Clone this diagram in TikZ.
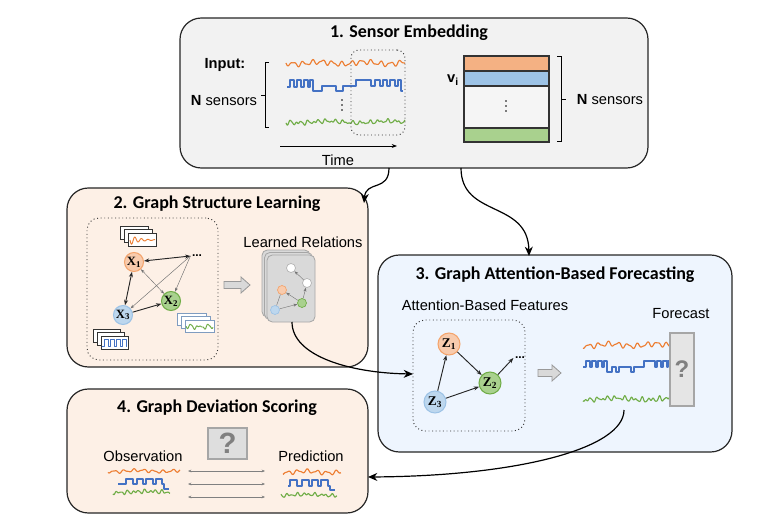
\documentclass[tikz,border=0pt]{standalone}
\usepackage{fontspec}
\setmainfont{Liberation Sans}
\newfontfamily\titlefont{Carlito}
\newfontfamily\varfont{Liberation Serif}
\usetikzlibrary{arrows.meta,fit}

\definecolor{boxgray}{HTML}{F2F2F2}
\definecolor{peach}{HTML}{FDF0E6}
\definecolor{skyfill}{HTML}{EEF5FE}
\definecolor{sigorange}{HTML}{ED7D31}
\definecolor{sigblue}{HTML}{4472C4}
\definecolor{siggreen}{HTML}{70AD47}
\definecolor{nodeorange}{HTML}{F8CBAD}
\definecolor{nodeorangeline}{HTML}{F4A46C}
\definecolor{nodeblue}{HTML}{BDD7EE}
\definecolor{nodeblueline}{HTML}{9DC3E6}
\definecolor{nodegreen}{HTML}{A9D18E}
\definecolor{nodegreenline}{HTML}{70AD47}
\definecolor{vecorange}{HTML}{F4B183}
\definecolor{vecblue}{HTML}{9DC3E6}
\definecolor{vecgreen}{HTML}{A9D18E}
\definecolor{cardgray}{HTML}{D9D9D9}
\definecolor{frameblue}{HTML}{7F9CC0}

\tikzset{
  stage/.style={draw=black!85, line width=0.9pt, rounded corners=16pt, inner sep=0pt},
  innerbox/.style={draw=black!80, dotted, line width=0.7pt, rounded corners=9pt, inner sep=0pt},
  stagetitle/.style={font=\titlefont\bfseries\fontsize{13.5}{15}\selectfont, inner sep=0pt},
  lbl/.style={font=\fontsize{11}{13}\selectfont, inner sep=0pt},
  xnode/.style={circle, minimum size=19*0.75pt, inner sep=0pt, line width=0.8pt,
    font=\varfont\bfseries\fontsize{9.5}{10}\selectfont},
  znode/.style={circle, minimum size=22*0.75pt, inner sep=0pt, line width=0.8pt,
    font=\varfont\bfseries\fontsize{10}{11}\selectfont},
  orangenode/.style={fill=nodeorange, draw=nodeorangeline},
  bluenode/.style={fill=nodeblue, draw=nodeblueline},
  greennode/.style={fill=nodegreen, draw=nodegreenline},
  mininode/.style={circle, minimum size=9*0.75pt, inner sep=0pt, line width=0.5pt},
  link/.style={-{Stealth[length=4pt,width=3pt]}, line width=0.7pt, black!85},
  dlink/.style={{Stealth[length=4pt,width=3pt]}-{Stealth[length=4pt,width=3pt]}, line width=0.7pt, black!85},
  faint/.style={-{Stealth[length=3pt,width=2.2pt]}, line width=0.35pt, black!55},
  dfaint/.style={{Stealth[length=3pt,width=2.2pt]}-{Stealth[length=3pt,width=2.2pt]}, line width=0.35pt, black!55},
  flow/.style={-{Stealth[length=7pt,width=6pt]}, line width=0.9pt},
  sig/.style={line width=0.85pt, line join=round},
}

% smooth wavy signal: colour, x start, x end, baseline, phase, amplitude
\newcommand\wavy[6]{%
  \draw[sig,#1] plot[domain=#2:#3, samples=200, smooth]
    (\x,{#4 + #6*(2.0*sin(37*(\x-#2)+#5) + 0.9*sin(63*(\x-#2)+2*#5) + 1.1*sin(8*(\x-#2)+#5))});}
% irregular signal with short bursts
\newcommand\spiky[6]{%
  \draw[sig,#1] plot[domain=#2:#3, samples=200, smooth]
    (\x,{#4 + #6*(2.6*sin(52*(\x-#2)+#5)*sin(11*(\x-#2)+2*#5) + 1.0*sin(83*(\x-#2))*sin(19*(\x-#2)+#5) + 0.9*sin(6*(\x-#2)+#5))});}
% grey block arrow: x start, x end, y
\newcommand\blockarrow[3]{%
  \draw[fill=black!15, draw=black!40, line width=0.6pt]
    (#1,#3-3.5) -- (#2-9,#3-3.5) -- (#2-9,#3-8) -- (#2,#3) -- (#2-9,#3+8)
    -- (#2-9,#3+3.5) -- (#1,#3+3.5) -- cycle;}
% three stacked frames, front frame top-left at (#1,#2), size #3 x #4, colour #5
\newcommand\frames[5]{%
  \foreach \k in {2,1,0}{
    \draw[#5, fill=white, line width=0.7pt] (#1-4*\k,#2-3.5*\k) rectangle ++(#3,#4);}}

\begin{document}
\begin{tikzpicture}[x=0.75pt,y=-0.75pt]
\useasboundingbox (0,0) rectangle (757,531);

% ---------------- stage boxes ----------------
\node[stage, fill=boxgray, fit={(180,18) (648,168)}] (b1) {};
\node[stage, fill=peach, fit={(67,188) (368,367)}] (b2) {};
\node[stage, fill=skyfill, fit={(378,255) (732,452)}] (b3) {};
\node[stage, fill=peach, fit={(67,389) (368,513)}] (b4) {};

\node[stagetitle] (t1) at (409,33) {1. Sensor Embedding};
\node[stagetitle] (t2) at (217,204) {2. Graph Structure Learning};
\node[stagetitle] (t3) at (555,275) {3. Graph Attention-Based Forecasting};
\node[stagetitle] (t4) at (217,408) {4. Graph Deviation Scoring};

% ---------------- 1. sensor embedding ----------------
\node[lbl, font=\bfseries\fontsize{11}{13}\selectfont] (inp) at (225,65) {Input:};
\node[lbl] (ns1) at (224,101) {\textbf{N} sensors};
\draw[line width=0.7pt] (269,62) -- (265,62) -- (265,127) -- (269,127);
\draw[line width=0.7pt] (265,95) -- (261,95);

\wavy{sigorange}{286}{405}{63}{0}{1}
\draw[sig, sigblue] plot[const plot] coordinates {
  (287,87) (290,80) (294,87) (297,80) (301,87) (304,80) (308,87) (310,80)
  (313,91) (322,86) (331,86) (336,91) (343,86) (352,86) (356,80) (364,80)
  (371,86) (375,80) (380,86) (383,80) (387,86) (390,80) (395,86) (398,80)
  (401,91) (403,91)};
\spiky{siggreen}{286}{405}{122}{20}{1}
\foreach \yy in {100,105,110} \fill (342,\yy) circle (0.9);
\node[innerbox, rounded corners=6pt, fit={(351,50) (405,135)}] (win) {};

\coordinate (ts) at (280,146);
\coordinate (te) at (397,146);
\draw[-{Stealth[length=4pt,width=3pt]}, line width=0.6pt] (ts) -- (te);
\node[lbl] (time) at (338,160) {Time};

\draw[fill=vecorange, draw=black!80, line width=0.9pt] (464,56) rectangle (549,71);
\draw[fill=vecblue, draw=black!80, line width=0.9pt] (464,71) rectangle (549,86);
\draw[fill=black!4, draw=black!80, line width=0.9pt] (464,86) rectangle (549,128);
\draw[fill=vecgreen, draw=black!80, line width=0.9pt] (464,128) rectangle (549,142);
\foreach \yy in {101,106,111} \fill (506,\yy) circle (0.9);
\node[lbl, font=\bfseries\fontsize{11}{13}\selectfont] (vi) at (453,80) {v\textsubscript{i}};
\draw[line width=0.7pt] (557,56) -- (561,56) -- (561,141) -- (557,141);
\draw[line width=0.7pt] (561,99) -- (566,99);
\node[lbl] (ns2) at (610,100) {\textbf{N} sensors};

% ---------------- 2. graph structure learning ----------------
\node[innerbox, fit={(87,218) (218,360)}] (g2) {};

% small stacked charts
\frames{128}{233}{28}{13}{black!80}
\draw[sig, sigorange, line width=0.7pt] plot[domain=0:25, samples=80, smooth]
  (130+\x,{240 + 5*exp(-\x/9)*sin(\x*55)});
\frames{185}{320}{29}{12}{frameblue}
\spiky{siggreen, line width=0.7pt}{186}{213}{326}{10}{1.1}
\frames{101}{336}{27}{13}{black!80}
\draw[sig, sigblue, line width=0.7pt] plot[const plot] coordinates {
  (102,346) (104,339) (108,346) (110,339) (114,346) (116,339) (120,346)
  (122,339) (126,346) (127,346)};

\node[xnode, orangenode] (x1) at (134,262) {X\textsubscript{1}};
\node[xnode, greennode] (x2) at (171,301) {X\textsubscript{2}};
\node[xnode, bluenode] (x3) at (123,315) {X\textsubscript{3}};
\node[inner sep=1pt, font=\bfseries\fontsize{9}{10}\selectfont] (xd) at (197,256) {...};

\draw[dfaint] (x1) -- (x2);
\draw[faint] (xd.west) -- (x2);
\draw[faint] (xd.west) -- (x3);
\draw[dlink] (x1) -- (x3);
\draw[link] (x3) -- (x2);
\draw[dlink] (xd.west) -- (x1);

\blockarrow{224}{250}{285}

\node[lbl] (lr) at (303,242) {Learned Relations};
\foreach \k in {2,1,0}{
  \draw[fill=cardgray, draw=black!35, line width=0.6pt, rounded corners=4pt]
    (267-2.5*\k,255-2.5*\k) rectangle ++(48,67);}
\node[fit={(267,255) (315,322)}, inner sep=0pt] (card) {};
\node[mininode, fill=white, draw=black!30] (m1) at (291,268) {};
\node[mininode, fill=white, draw=black!30] (m2) at (307,283) {};
\node[mininode, fill=nodeorange, draw=nodeorangeline] (m3) at (282,290) {};
\node[mininode, fill=nodegreen, draw=nodegreenline] (m4) at (302,303) {};
\node[mininode, fill=nodeblue, draw=nodeblueline] (m5) at (275,310) {};
\draw[faint, line width=0.3pt] (m2) -- (m1);
\draw[faint, line width=0.3pt] (m4) -- (m2);
\draw[faint, line width=0.3pt] (m4) -- (m3);
\draw[line width=0.3pt, black!55] (m3) -- (m5);
\draw[faint, line width=0.3pt] (m5) -- (m4);

% ---------------- 3. graph attention-based forecasting ----------------
\node[lbl] (abf) at (485,305) {Attention-Based Features};
\node[innerbox, fit={(413,320) (525,431)}] (g3) {};
\node[znode, orangenode] (z1) at (449,344) {Z\textsubscript{1}};
\node[znode, greennode] (z2) at (490,383) {Z\textsubscript{2}};
\node[znode, bluenode] (z3) at (435,402) {Z\textsubscript{3}};
\node[inner sep=1pt, font=\bfseries\fontsize{9}{10}\selectfont] (zd) at (520,358) {...};
\draw[link] (z3) -- (z1);
\draw[link] (z1) -- (z2);
\draw[link] (z3) -- (z2);
\draw[link] (z2) -- (zd.west);

\blockarrow{538}{561}{373}

\node[lbl] (fc) at (681,314) {Forecast};
\wavy{sigorange}{583}{670}{345}{50}{1}
\draw[sig, sigblue] plot[const plot] coordinates {
  (583,367) (586,361) (590,367) (592,361) (596,367) (598,361) (602,367)
  (604,361) (607,372) (612,367) (616,372) (619,367) (627,367) (631,372)
  (634,367) (640,367) (644,361) (651,361) (655,367) (657,361) (661,367)
  (663,361) (667,367) (668,361) (670,361)};
\spiky{siggreen}{583}{670}{399}{80}{1}
\node[draw=black!35, fill=black!10, line width=0.8pt, fit={(670,333) (694,406)}, inner sep=0pt] (fq) {};
\node[text=black!50, font=\bfseries\fontsize{18}{18}\selectfont] at (fq.center) {?};

% ---------------- 4. graph deviation scoring ----------------
\node[draw=black!35, fill=black!13, line width=0.8pt, fit={(208,428) (247,459)}, inner sep=0pt] (dq) {};
\node[text=black!50, font=\bfseries\fontsize{22}{22}\selectfont] at (dq.center) {?};
\node[lbl] (obs) at (143,456) {Observation};
\node[lbl] (pred) at (311,456) {Prediction};

\wavy{sigorange}{108}{180}{471}{30}{0.6}
\draw[sig, sigblue] plot[const plot] coordinates {
  (118,484) (126,479) (133,484) (137,479) (143,484) (146,479) (153,484)
  (156,479) (162,484) (164,489) (169,489)};
\spiky{siggreen}{113}{170}{492}{60}{0.7}

\wavy{sigorange}{283}{341}{472}{90}{0.8}
\draw[sig, sigblue] plot[const plot] coordinates {
  (288,486) (290,480) (297,486) (302,480) (309,486) (312,480) (318,486)
  (321,480) (328,486) (330,490) (335,490)};
\spiky{siggreen}{281}{337}{495}{120}{0.7}

\foreach \yy/\nm in {471/da,484/db,497/dc}{
  \coordinate (\nm l) at (188,\yy);
  \coordinate (\nm r) at (265,\yy);
  \draw[{Stealth[length=2.5pt,width=2pt]}-{Stealth[length=2.5pt,width=2pt]}, line width=0.35pt, black!50]
    (\nm l) -- (\nm r);}

% ---------------- connectors between stages ----------------
\coordinate (c1s) at (389,168);
\coordinate (c1e) at (364,203);
\draw[flow] (c1s) .. controls (389,192) and (366,180) .. (c1e);
\coordinate (c2s) at (461,168);
\coordinate (c2e) at (529,256);
\draw[flow] (c2s) .. controls (461,218) and (528,200) .. (c2e);
\coordinate (c3s) at (292,322);
\coordinate (c3e) at (413,374);
\draw[flow] (c3s) .. controls (292,356) and (350,373) .. (c3e);
\coordinate (c4s) at (624,410);
\coordinate (c4e) at (368,477);
\draw[flow] (c4s) .. controls (624,448) and (520,476) .. (c4e);

\end{tikzpicture}
\end{document}
